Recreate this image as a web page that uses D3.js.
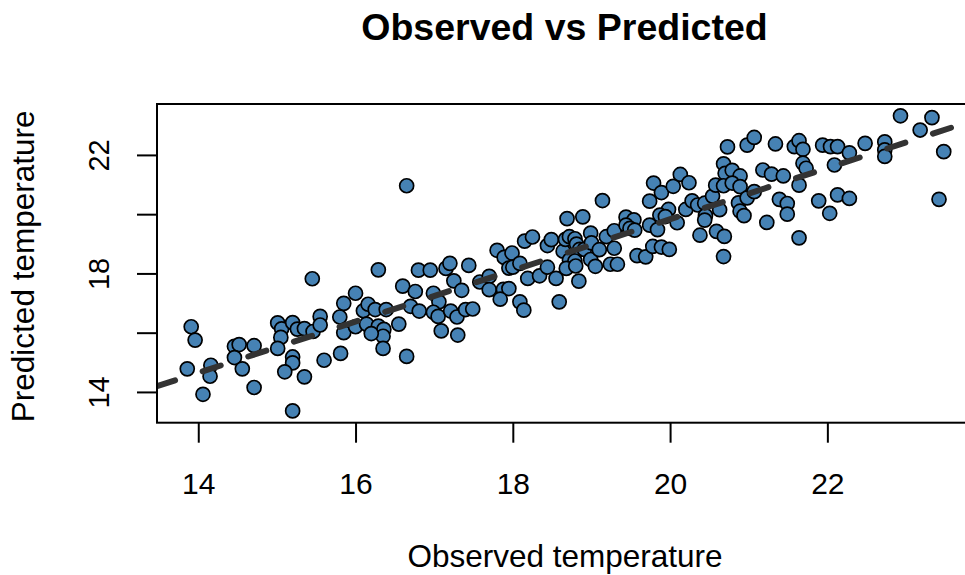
<!DOCTYPE html>
<html>
<head>
<meta charset="utf-8">
<script src="https://cdn.jsdelivr.net/npm/d3@7/dist/d3.min.js"></script>
<style>
  html, body { margin: 0; padding: 0; background: #ffffff; }
  svg { display: block; }
  text { font-family: "Liberation Sans", Arial, Helvetica, sans-serif; fill: #000; }
</style>
</head>
<body>
<svg id="chart" width="965" height="575"></svg>
<script>
// Observed and predicted temperatures, one entry per station-day
const observed = [
  13.91, 13.96, 13.86, 14.16, 14.15, 14.06, 14.46, 14.52, 14.46, 14.56,
  14.71, 14.71, 15.01, 15.06, 15.05, 15.01, 15.20, 15.26, 15.35, 15.46,
  15.55, 15.55, 15.45, 15.20, 15.20, 15.10, 15.35, 15.20, 15.60, 15.80,
  15.85, 15.81, 15.85, 16.00, 16.10, 16.16, 16.25, 16.39, 16.00, 16.14,
  16.29, 16.36, 16.35, 16.20, 16.55, 16.35, 16.65, 16.60, 16.76, 16.70,
  16.81, 16.29, 16.80, 16.95, 17.15, 17.20, 17.44, 17.25, 17.35, 16.99,
  17.06, 16.99, 17.05, 17.21, 17.29, 17.40, 17.49, 17.09, 17.30, 16.65,
  17.58, 17.70, 17.70, 17.80, 17.89, 17.99, 17.95, 18.00, 18.09, 17.88,
  17.95, 17.84, 18.09, 18.14, 18.15, 18.25, 18.19, 18.34, 18.44, 18.49,
  18.44, 18.55, 18.59, 18.64, 18.67, 18.72, 18.79, 18.81, 18.85, 18.91,
  18.69, 18.89, 18.72, 18.79, 18.68, 18.80, 18.84, 18.99, 19.00, 18.99,
  19.05, 19.10, 19.14, 19.19, 19.29, 19.29, 19.24, 19.33, 19.44, 19.54,
  19.44, 19.49, 19.55, 19.58, 19.69, 19.74, 19.84, 19.78, 19.89, 19.99,
  19.74, 19.79, 19.89, 19.98, 19.87, 19.94, 20.04, 20.13, 20.24, 20.09,
  20.20, 20.28, 20.35, 20.44, 20.45, 20.44, 20.54, 20.63, 20.38, 20.59,
  20.69, 20.68, 20.58, 20.68, 20.70, 20.79, 20.89, 20.68, 20.79, 20.89,
  20.73, 20.98, 21.07, 20.87, 20.98, 20.89, 20.94, 21.07, 21.18, 21.29,
  21.44, 21.39, 21.49, 21.49, 21.23, 21.34, 21.58, 21.64, 21.69, 21.69,
  21.73, 21.64, 21.64, 21.89, 22.03, 21.94, 22.04, 22.13, 22.09, 22.13,
  22.28, 22.28, 22.48, 22.73, 22.73, 22.73, 22.93, 23.18, 23.33, 23.48,
  23.42
];
const predicted = [
  16.20, 15.75, 14.78, 14.90, 14.53, 13.92, 15.54, 15.60, 15.16, 14.78,
  15.56, 14.15, 16.33, 16.13, 15.84, 15.47, 16.34, 16.12, 16.14, 16.04,
  16.55, 16.26, 17.82, 15.18, 14.98, 14.68, 14.51, 13.36, 15.07, 16.53,
  16.00, 15.30, 16.99, 17.33, 16.74, 16.96, 16.78, 16.78, 16.20, 16.29,
  16.22, 16.11, 15.88, 15.97, 16.29, 15.47, 15.20, 17.57, 17.39, 16.89,
  16.73, 18.12, 18.11, 18.11, 18.17, 18.34, 18.27, 17.75, 17.43, 17.33,
  17.04, 16.69, 16.55, 16.73, 16.53, 16.78, 16.80, 16.06, 15.92, 20.96,
  17.71, 17.90, 17.45, 18.78, 18.54, 18.69, 18.18, 18.21, 18.34, 17.46,
  17.49, 17.13, 17.04, 16.76, 19.09, 19.23, 17.83, 17.92, 18.94, 19.14,
  18.21, 17.83, 17.04, 18.75, 19.15, 19.24, 19.17, 18.99, 18.81, 18.81,
  19.85, 19.91, 18.45, 18.42, 18.17, 18.25, 17.74, 19.36, 19.03, 18.47,
  18.24, 18.80, 20.46, 19.24, 19.44, 18.85, 18.31, 18.31, 19.90, 19.81,
  19.63, 19.52, 19.46, 18.60, 18.56, 19.63, 19.48, 18.91, 18.89, 18.81,
  20.44, 21.05, 20.73, 20.16, 19.97, 19.92, 20.94, 21.34, 21.06, 19.71,
  20.16, 20.45, 20.31, 20.37, 19.95, 19.80, 20.61, 20.15, 19.29, 19.42,
  19.25, 18.57, 20.98, 21.70, 21.38, 21.48, 21.29, 20.96, 21.05, 20.93,
  22.27, 22.33, 22.59, 20.38, 20.55, 20.10, 19.95, 20.76, 21.49, 21.35,
  21.29, 20.50, 20.36, 20.00, 19.72, 22.37, 22.28, 22.48, 22.19, 21.72,
  21.55, 20.98, 19.20, 20.45, 20.03, 22.33, 22.28, 22.28, 21.66, 20.65,
  20.53, 22.07, 22.39, 22.44, 22.17, 21.95, 23.32, 22.84, 23.26, 22.11,
  20.50
];

// Fitted line (predicted ~ observed)
const fitIntercept = 2.55;
const fitSlope = 0.864;

// Axis ticks
const xTicks = [14, 16, 18, 20, 22];
const xTickLabels = ["14", "16", "18", "20", "22"];
const yTicks = [14, 16, 18, 20, 22];
const yTickLabels = ["14", "", "18", "", "22"];

const titleText = "Observed vs Predicted";
const xTitle = "Observed temperature";
const yTitle = "Predicted temperature";

// ---- layout ----
const plot = { left: 157, right: 974, top: 104, bottom: 422.7 };
const svg = d3.select("#chart");

// R-style limits: data range padded by 4% on each side
function paddedExtent(values) {
  const [lo, hi] = d3.extent(values);
  const pad = (hi - lo) * 0.04;
  return [lo - pad, hi + pad];
}

const x = d3.scaleLinear().domain(paddedExtent(observed)).range([plot.left, plot.right]);
const y = d3.scaleLinear().domain(paddedExtent(predicted)).range([plot.bottom, plot.top]);

svg.append("defs").append("clipPath").attr("id", "plotClip")
  .append("rect")
  .attr("x", plot.left).attr("y", plot.top)
  .attr("width", plot.right - plot.left).attr("height", plot.bottom - plot.top);

// points
const points = observed.map((o, i) => ({ o, p: predicted[i] }));
svg.append("g").attr("clip-path", "url(#plotClip)")
  .selectAll("circle").data(points).join("circle")
  .attr("cx", d => x(d.o))
  .attr("cy", d => y(d.p))
  .attr("r", 7)
  .attr("fill", "#4682B4")
  .attr("stroke", "#000")
  .attr("stroke-width", 1.7);

// fitted line, dashed
const xd = x.domain();
const lineData = xd.map(v => [v, fitIntercept + fitSlope * v]);
svg.append("path")
  .attr("clip-path", "url(#plotClip)")
  .attr("d", d3.line().x(d => x(d[0])).y(d => y(d[1]))(lineData))
  .attr("fill", "none")
  .attr("stroke", "#333333")
  .attr("stroke-width", 6)
  .attr("stroke-linecap", "round")
  .attr("stroke-dasharray", "19,29");

// frame
svg.append("rect")
  .attr("x", plot.left).attr("y", plot.top)
  .attr("width", plot.right - plot.left).attr("height", plot.bottom - plot.top)
  .attr("fill", "none").attr("stroke", "#000").attr("stroke-width", 2);

// x axis
const xAxis = d3.axisBottom(x).tickValues(xTicks)
  .tickFormat((d, i) => xTickLabels[i]).tickSize(20).tickPadding(0);
const gx = svg.append("g").attr("transform", `translate(0,${plot.bottom})`).call(xAxis);
gx.select(".domain").remove();
gx.selectAll(".tick line").attr("stroke", "#000").attr("stroke-width", 2);
gx.selectAll(".tick text")
  .attr("font-size", 30).attr("y", 71.5).attr("dy", 0)
  .style("font-family", "'Liberation Sans', Arial, sans-serif");

// y axis
const yAxis = d3.axisLeft(y).tickValues(yTicks)
  .tickFormat((d, i) => yTickLabels[i]).tickSize(20).tickPadding(0);
const gy = svg.append("g").attr("transform", `translate(${plot.left},0)`).call(yAxis);
gy.select(".domain").remove();
gy.selectAll(".tick line").attr("stroke", "#000").attr("stroke-width", 2);
gy.selectAll(".tick text")
  .attr("font-size", 29)
  .attr("x", 0).attr("dy", 0)
  .attr("text-anchor", "middle")
  .attr("transform", "translate(-48,0) rotate(-90)")
  .style("font-family", "'Liberation Sans', Arial, sans-serif");

// titles
svg.append("text")
  .attr("x", (plot.left + plot.right) / 2 - 1).attr("y", 40)
  .attr("text-anchor", "middle")
  .attr("font-size", 37.5).attr("font-weight", "bold")
  .text(titleText);

svg.append("text")
  .attr("x", (plot.left + plot.right) / 2 - 0.5).attr("y", 567)
  .attr("text-anchor", "middle")
  .attr("font-size", 31.5)
  .text(xTitle);

svg.append("text")
  .attr("transform", `translate(34,${(plot.top + plot.bottom) / 2 + 3}) rotate(-90)`)
  .attr("text-anchor", "middle")
  .attr("font-size", 31.5)
  .text(yTitle);
</script>
</body>
</html>
